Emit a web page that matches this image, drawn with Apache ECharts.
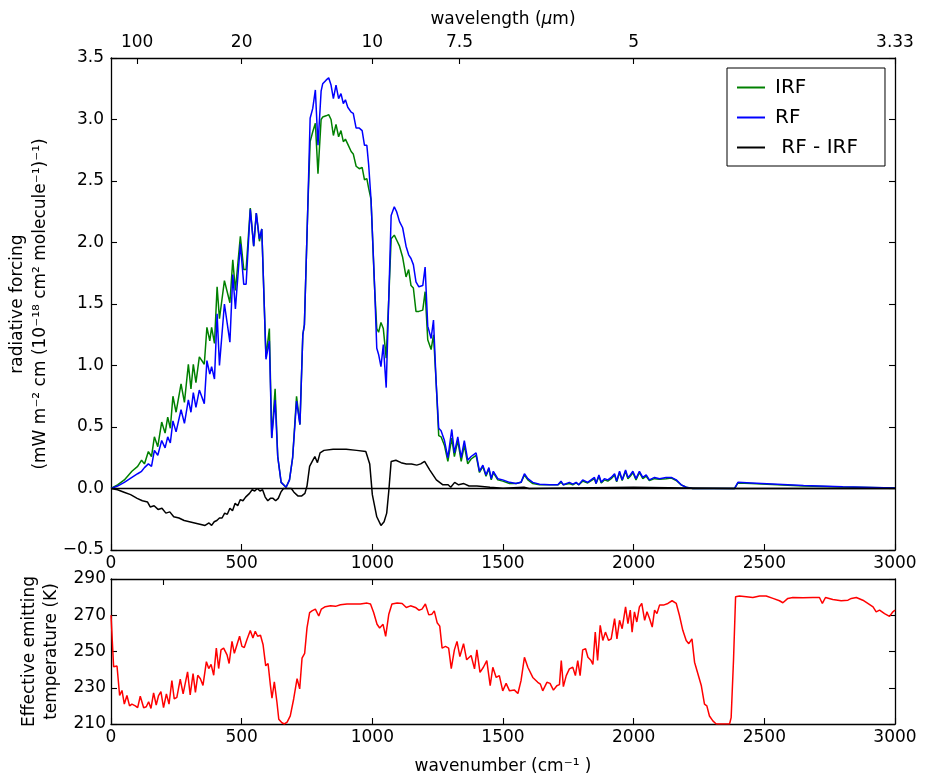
<!DOCTYPE html>
<html><head><meta charset="utf-8">
<script src="https://cdn.jsdelivr.net/npm/echarts@6/dist/echarts.min.js"></script>
<style>html,body{margin:0;padding:0;background:#fff}#c{width:925px;height:777px}</style>
</head><body><div id="c"></div>
<script>
// ---------- data ----------
const wnF = [0,25,51,80,102,117,128,143,155,166,
 179,194,207,217,227,237,249,268,281,296,
 306,315,325,338,357,367,378,385,396,406,
 415,434,455,466,476,495,508,517,533,546,
 556,568,577,593,606,615,628,638,651,670,
 683,695,710,723,734,740,753,762,772,782,
 792,804,810,823,833,842,851,861,871,880,
 889,897,906,919,927,938,950,961,970,979,
 986,995,1008,1017,1024,1033,1042,1053,1063,1072,
 1084,1093,1104,1116,1129,1139,1148,1157,1167,1178,
 1193,1202,1212,1225,1234,1244,1254,1263,1276,1289,
 1304,1314,1327,1340,1352,1365,1378,1397,1410,1423,
 1435,1446,1455,1463,1480,1499,1525,1550,1569,1582,
 1595,1614,1640,1678,1710,1722,1731,1754,1767,1780,
 1790,1805,1824,1850,1856,1867,1876,1888,1901,1914,
 1927,1935,1946,1956,1969,1978,1987,1997,2009,2022,
 2035,2048,2060,2080,2099,2124,2144,2163,2182,2201,
 2226,2300,2386,2399,2450,2550,2650,2800,3000];
const irf = [0,0.03,0.07,0.14,0.18,0.23,0.20,0.30,0.26,0.42,
 0.34,0.54,0.45,0.58,0.49,0.75,0.62,0.85,0.70,1.01,
 0.81,1.01,0.86,1.07,1.01,1.31,1.20,1.31,1.18,1.64,
 1.38,1.69,1.51,1.86,1.61,2.05,1.78,1.78,2.28,1.97,
 2.24,2.01,2.11,1.07,1.30,0.41,0.81,0.26,0.05,0.01,
 0.07,0.25,0.75,0.52,1.25,1.33,2.28,2.82,2.90,2.97,
 2.56,3.00,3.02,3.03,3.04,3.00,2.87,2.96,2.86,2.91,
 2.82,2.84,2.80,2.74,2.72,2.62,2.60,2.61,2.51,2.52,
 2.44,2.35,1.66,1.30,1.27,1.35,1.30,1.06,1.55,2.03,
 2.06,2.02,1.97,1.88,1.72,1.78,1.65,1.63,1.44,1.44,
 1.45,1.60,1.21,1.13,1.25,0.87,0.43,0.42,0.35,0.22,
 0.41,0.26,0.39,0.22,0.35,0.20,0.24,0.27,0.13,0.18,
 0.10,0.16,0.07,0.13,0.07,0.06,0.04,0.04,0.05,0.11,
 0.07,0.04,0.03,0.03,0.03,0.05,0.03,0.04,0.03,0.045,
 0.03,0.06,0.045,0.08,0.04,0.10,0.045,0.07,0.06,0.08,
 0.11,0.055,0.13,0.065,0.14,0.08,0.10,0.13,0.07,0.13,
 0.08,0.10,0.065,0.08,0.075,0.08,0.085,0.065,0.03,0.01,
 0,0,0,0.045,0.04,0.03,0.02,0.012,0.005];
const rf = [0,0.02,0.05,0.09,0.12,0.14,0.17,0.20,0.18,0.31,
 0.27,0.39,0.33,0.42,0.37,0.55,0.46,0.64,0.53,0.72,
 0.62,0.78,0.66,0.80,0.69,1.04,0.93,0.99,0.89,1.42,
 1.00,1.50,1.19,1.74,1.46,1.99,1.66,1.66,2.27,1.97,
 2.24,2.03,2.11,1.05,1.20,0.41,0.72,0.26,0.05,0.01,
 0.07,0.25,0.71,0.52,1.25,1.33,2.28,3.01,3.09,3.24,
 2.79,3.23,3.29,3.32,3.34,3.28,3.17,3.28,3.17,3.21,
 3.13,3.16,3.10,3.06,3.05,2.93,2.93,2.91,2.79,2.79,
 2.63,2.35,1.68,1.14,1.09,0.99,1.17,0.82,1.55,2.22,
 2.29,2.25,2.17,2.12,1.97,1.90,1.87,1.82,1.68,1.64,
 1.65,1.80,1.32,1.22,1.37,0.87,0.49,0.47,0.39,0.25,
 0.48,0.29,0.42,0.25,0.39,0.23,0.26,0.29,0.14,0.19,
 0.11,0.17,0.08,0.14,0.08,0.07,0.05,0.04,0.05,0.12,
 0.08,0.05,0.035,0.03,0.03,0.06,0.03,0.05,0.035,0.05,
 0.03,0.07,0.05,0.09,0.04,0.11,0.05,0.08,0.07,0.09,
 0.12,0.06,0.14,0.07,0.15,0.09,0.11,0.14,0.08,0.14,
 0.09,0.11,0.07,0.09,0.08,0.09,0.09,0.07,0.03,0.01,
 0,0,0,0.05,0.045,0.035,0.025,0.015,0.005];
const wnD = [0,25,50,75,100,120,140,150,165,180,
 195,210,225,240,260,280,300,320,340,360,
 375,385,395,405,415,425,435,445,455,465,
 475,485,495,505,515,530,540,550,560,570,
 580,590,600,610,620,630,640,650,660,675,
 690,700,715,730,742,750,760,770,780,790,
 800,815,850,900,940,975,990,1000,1017,1033,
 1045,1055,1063,1072,1090,1110,1130,1150,1170,1185,
 1200,1220,1245,1270,1290,1300,1315,1330,1350,1370,
 1400,1450,1500,1580,1600,2000,2200,2400,3000];
const diff = [0,-0.01,-0.03,-0.05,-0.08,-0.10,-0.11,-0.15,-0.14,-0.17,
 -0.16,-0.20,-0.19,-0.23,-0.24,-0.26,-0.27,-0.28,-0.29,-0.30,
 -0.28,-0.30,-0.27,-0.26,-0.24,-0.24,-0.20,-0.21,-0.16,-0.18,
 -0.12,-0.14,-0.09,-0.10,-0.07,-0.04,-0.01,-0.02,0.0,-0.02,
 -0.01,-0.07,-0.10,-0.08,-0.08,-0.10,-0.08,-0.03,0.0,0.0,
 0.0,-0.03,-0.06,-0.06,-0.04,0.02,0.18,0.22,0.26,0.21,
 0.29,0.31,0.32,0.32,0.31,0.30,0.20,-0.05,-0.23,-0.30,
 -0.27,-0.20,-0.02,0.22,0.23,0.21,0.20,0.20,0.19,0.20,
 0.22,0.15,0.07,0.03,0.03,0.01,0.05,0.03,0.04,0.02,
 0.02,0.01,0.003,0.01,0.0,0.01,0.005,0.0,0.0];
const wnT = [0,10,23,33,42,51,61,71,80,93,
 102,112,125,135,144,153,163,173,182,191,
 201,212,222,233,242,252,265,276,293,303,
 314,323,332,342,352,365,374,383,393,403,
 412,421,431,444,452,463,472,482,492,501,
 510,520,533,543,552,561,572,582,592,601,
 610,616,625,635,642,654,663,674,686,699,
 712,722,731,741,750,760,769,782,795,805,
 820,840,859,878,903,929,954,980,993,1005,
 1018,1028,1041,1051,1063,1075,1095,1114,1130,1146,
 1165,1178,1190,1203,1216,1228,1237,1248,1258,1267,
 1280,1292,1302,1314,1324,1335,1349,1361,1378,1391,
 1400,1412,1425,1438,1451,1461,1474,1486,1499,1512,
 1525,1544,1557,1569,1582,1595,1614,1633,1643,1652,
 1668,1680,1693,1706,1716,1723,1731,1742,1754,1767,
 1777,1786,1795,1805,1816,1825,1837,1844,1853,1862,
 1872,1882,1892,1904,1914,1927,1936,1946,1956,1969,
 1978,1987,1994,2003,2012,2022,2031,2042,2051,2061,
 2071,2080,2089,2099,2114,2131,2147,2163,2175,2188,
 2201,2211,2223,2233,2246,2259,2271,2280,2290,2303,
 2316,2341,2367,2373,2382,2390,2405,2431,2456,2482,
 2507,2533,2558,2571,2590,2609,2648,2686,2711,2722,
 2734,2762,2794,2820,2833,2852,2877,2896,2916,2928,
 2941,2960,2979,2992,3000];
const tEff = [270,241.6,242,225.7,228.5,221,225.7,220,221,220,
 219,225.3,219,219.5,222.3,218.6,227.2,220.5,225.7,227.9,
 219,226.6,221,234,223.8,224.7,234.7,226.6,238.8,226,
 237.8,227.5,236.9,235,231.3,244.4,240.6,242.9,236.9,251.9,
 240.6,250.9,251.9,248.1,243.4,255.6,249,253.7,258.4,252.8,
 252.2,256.5,261.6,257.5,261.2,258.4,259,253.7,242.1,243.4,
 231.3,224.2,233.2,222,212.6,210.7,210,211,214.5,223.8,
 235,229.4,246.3,249,263,271.5,272.4,273.4,269.6,273.4,
 274.7,275.2,274.9,275.8,276.2,276.2,276.2,276.7,276.2,271.5,
 265,263,265,258.4,270.6,276.2,276.7,276.5,274.3,275.2,
 274.3,272.8,273.4,276.2,270.2,270.6,272.4,265.9,264,251.9,
 252.8,251.9,240.6,250.9,255.6,247.2,254.3,245.4,247.8,240.4,
 250.9,238.5,241.3,245,231.1,241.3,235.7,236.7,228.3,232.4,
 228.3,228.7,226.8,233.9,246.8,241.3,235.7,233,232,228.3,
 233,232.4,228.7,231.1,231.7,245,230.6,236.7,240.4,241.3,
 236.7,245,236.7,250.9,251.5,246.8,245,242.8,260.7,245,
 264.4,256.1,260.7,256.1,257,268.1,257,267.2,262.6,274.6,
 265.4,272.8,260.7,271.9,266.3,274.6,276.5,267.2,271.9,268.1,
 263.5,272.8,270.9,275.6,275.6,276.5,278,276.5,270,261.7,
 256.1,254.3,257,244.1,237.6,231.1,221,220,214.4,211.7,
 210,210,210,213.5,245,280.2,280.6,280.2,279.8,280.6,
 280.6,279.3,278,276.9,279.3,279.8,279.6,279.8,279.8,276.5,
 279.8,278.7,278,278.3,279.3,279.8,278.3,276.5,274.6,271.9,
 272.8,270.9,269.4,271.9,272.8];
// top axis: wavelength ticks (in wavenumber units) and their labels (micrometres)
const wlTicks = [100, 500, 1000, 1333.33, 2000, 3000];
const wlLabels = ['100', '20', '10', '7.5', '5', '3.33'];
const wlTicksLower = [200, 1000, 2000];
const seriesNames = ['IRF', 'RF', ' RF - IRF'];

// ---------- chart ----------
const FONT = 'DejaVu Sans';
const FS = 17;
const chart = echarts.init(document.getElementById('c'), null, {renderer: 'canvas'});
const axLine = {show: true, onZero: false, lineStyle: {color: '#000', width: 1.3}};
const tick = {show: true, inside: true, length: 6, lineStyle: {color: '#000', width: 1.1}};
const lbl = {color: '#000', fontFamily: FONT, fontSize: FS};
const noSplit = {show: false};
const pair = (xs, ys) => xs.map((x, i) => [x, ys[i]]);
const fmtF = v => (v < 0 ? '\u2212' : '') + Math.abs(v).toFixed(1);
const fmtI = v => String(Math.round(v));
const nearestLabel = v => {
  let bi = 0;
  wlTicks.forEach((t, i) => { if (Math.abs(t - v) < Math.abs(wlTicks[bi] - v)) bi = i; });
  return wlLabels[bi];
};

const option = {
  animation: false,
  backgroundColor: '#fff',
  grid: [
    {left: 111, right: 30, top: 58, height: 492, containLabel: false, outerBoundsMode: 'none'},
    {left: 111, right: 30, top: 579, height: 145, containLabel: false, outerBoundsMode: 'none'}
  ],
  legend: {
    data: seriesNames,
    orient: 'vertical',
    left: 727, top: 68,
    padding: [9, 27, 8, 10],
    itemGap: 9,
    icon: 'rect',
    itemWidth: 28, itemHeight: 2,
    borderColor: '#000', borderWidth: 1, borderRadius: 0,
    backgroundColor: '#fff',
    textStyle: {color: '#000', fontFamily: FONT, fontSize: 20, padding: [0, 0, 0, 5], lineHeight: 21}
  },
  xAxis: [
    {gridIndex: 0, type: 'value', position: 'bottom', min: 0, max: 3000, interval: 500,
     axisLine: axLine, axisTick: tick, splitLine: noSplit, axisLabel: {...lbl, margin: 5, formatter: fmtI}},
    {gridIndex: 0, type: 'value', position: 'top', min: 0, max: 3000,
     axisLine: axLine, axisTick: {...tick, customValues: wlTicks}, splitLine: noSplit,
     axisLabel: {...lbl, margin: 7, customValues: wlTicks, formatter: v => nearestLabel(v)},
     name: '{n|wavelength (}{i|\u03bc}{n|m)}', nameLocation: 'middle', nameGap: 30,
     nameTextStyle: {rich: {n: {fontFamily: FONT, fontSize: FS, color: '#000'},
                            i: {fontFamily: FONT, fontSize: FS, fontStyle: 'italic', color: '#000'}}}},
    {gridIndex: 1, type: 'value', position: 'bottom', min: 0, max: 3000, interval: 500,
     axisLine: axLine, axisTick: tick, splitLine: noSplit, axisLabel: {...lbl, margin: 5, formatter: fmtI},
     name: 'wavenumber (cm\u207b\u00b9 )', nameLocation: 'middle', nameGap: 34,
     nameTextStyle: {fontFamily: FONT, fontSize: FS, color: '#000'}},
    {gridIndex: 1, type: 'value', position: 'top', min: 0, max: 3000,
     axisLine: axLine, axisTick: {...tick, customValues: wlTicksLower}, splitLine: noSplit,
     axisLabel: {show: false}}
  ],
  yAxis: [
    {gridIndex: 0, type: 'value', position: 'left', min: -0.5, max: 3.5, interval: 0.5,
     axisLine: axLine, axisTick: tick, splitLine: noSplit,
     axisLabel: {...lbl, margin: 7, formatter: fmtF},
     name: 'radiative forcing\n(mW m\u207b\u00b2 cm (10\u207b\u00b9\u2078 cm\u00b2 molecule\u207b\u00b9)\u207b\u00b9)',
     nameLocation: 'middle', nameGap: 55,
     nameTextStyle: {fontFamily: FONT, fontSize: FS, color: '#000', lineHeight: 23}},
    {gridIndex: 0, type: 'value', position: 'right', min: -0.5, max: 3.5, interval: 0.5,
     axisLine: axLine, axisTick: tick, splitLine: noSplit, axisLabel: {show: false}},
    {gridIndex: 1, type: 'value', position: 'left', min: 210, max: 290, interval: 20,
     axisLine: axLine, axisTick: tick, splitLine: noSplit, axisLabel: {...lbl, margin: 5, formatter: fmtI},
     name: 'Effective emitting\ntemperature (K)', nameLocation: 'middle', nameGap: 39,
     nameTextStyle: {fontFamily: FONT, fontSize: FS, color: '#000', lineHeight: 22}},
    {gridIndex: 1, type: 'value', position: 'right', min: 210, max: 290, interval: 20,
     axisLine: axLine, axisTick: tick, splitLine: noSplit, axisLabel: {show: false}}
  ],
  series: [
    {name: seriesNames[0], type: 'line', xAxisIndex: 0, yAxisIndex: 0, data: pair(wnF, irf),
     symbol: 'none', lineStyle: {color: '#008000', width: 1.5}, itemStyle: {color: '#008000'}, z: 2},
    {name: seriesNames[1], type: 'line', xAxisIndex: 0, yAxisIndex: 0, data: pair(wnF, rf),
     symbol: 'none', lineStyle: {color: '#0000ff', width: 1.5}, itemStyle: {color: '#0000ff'}, z: 3},
    {name: seriesNames[2], type: 'line', xAxisIndex: 0, yAxisIndex: 0, data: pair(wnD, diff),
     symbol: 'none', lineStyle: {color: '#000', width: 1.5}, itemStyle: {color: '#000'}, z: 4,
     markLine: {silent: true, symbol: 'none', label: {show: false},
                lineStyle: {color: '#000', width: 1.3, type: 'solid'},
                data: [{yAxis: 0}]}},
    {name: 'Teff', type: 'line', xAxisIndex: 2, yAxisIndex: 2, data: pair(wnT, tEff),
     symbol: 'none', lineStyle: {color: '#ff0000', width: 1.5}, itemStyle: {color: '#ff0000'}}
  ]
};
chart.setOption(option);
</script>
</body></html>
